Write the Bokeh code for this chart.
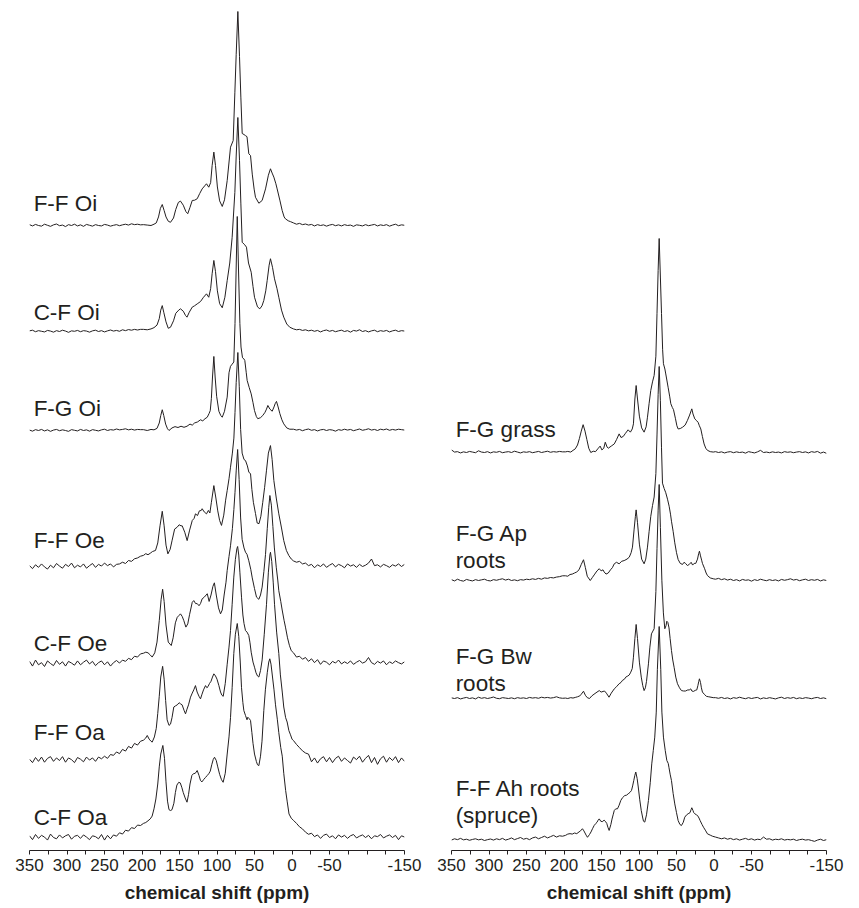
from bokeh.plotting import figure
from bokeh.models import Range1d, FixedTicker, ColumnDataSource
from bokeh.layouts import row
from bokeh.embed import file_html
from bokeh.resources import INLINE
from bokeh.core.properties import value

# ---------------- axis ticks ----------------
MAJOR_TICKS = [350, 300, 250, 200, 150, 100, 50, 0, -50, -100, -150]
MINOR_TICKS = [325, 275, 225, 175, 125, 75, 25, -25, -75, -125]
HIDDEN_TICK_LABELS = [-100]

# ---------------- sampling grids for the baseline wings (ppm) ----------------
LEFT_GRID = [350, 346, 342, 338, 334, 330, 326, 322, 318, 314, 310, 306, 302, 298, 294, 290, 286, 282, 278,
             274, 270, 266, 262, 258, 254, 250, 246, 242, 238, 234, 230, 226, 222, 218, 214, 210, 206, 202]
RIGHT_GRID = [-2, -6, -10, -14, -18, -22, -26, -30, -34, -38, -42, -46, -50, -54, -58, -62, -66, -70, -74,
              -78, -82, -86, -90, -94, -98, -102, -106, -110, -114, -118, -122, -126, -130, -134, -138, -142, -146, -150]

# ---------------- spectra (relative intensity, max = 1) ----------------
# F-F Oi
FFOI_L = [0.004,-0.002,0.005,0.000,-0.003,0.006,0.001,-0.004,0.003,0.007,
          -0.001,0.002,-0.005,0.004,0.000,0.006,-0.002,0.003,-0.004,0.005,
          0.001,-0.003,0.004,0.000,-0.002,0.005,0.002,-0.003,0.001,0.004,
          -0.001,0.003,0.006,0.002,0.008,0.004,0.006,0.003]
FFOI_PPM = [198,193,188,184,181,178,175.5,173,170.5,168,165,162,158,155,151.5,148.7,145,141.5,139,136,133,130,
            126.4,123,119.8,116.5,114,111,108.5,106.5,104.2,102,99.5,96.5,93,90,86.4,82,78.4,76.2,74.4,72.2,70,
            68.2,66.4,64,62,60,57.6,55.3,53,50.5,48.7,44.2,39.8,35.3,31.5,28.7,26.5,24.2,21.5,19.8,16,13.1,10.5,
            8.7,5,2]
FFOI_INT = [0.004,0.002,0.0,0.006,0.012,0.04,0.08,0.098,0.07,0.04,0.02,0.015,0.035,0.075,0.108,0.114,0.095,0.065,
            0.055,0.085,0.117,0.118,0.125,0.15,0.171,0.185,0.195,0.179,0.2,0.28,0.343,0.28,0.18,0.115,0.089,0.12,
            0.21,0.366,0.397,0.62,0.8,1.0,0.79,0.6,0.43,0.425,0.42,0.415,0.335,0.327,0.24,0.17,0.132,0.104,0.117,
            0.171,0.235,0.265,0.245,0.226,0.195,0.171,0.115,0.07,0.04,0.031,0.022,0.018]
FFOI_R = [0.012,0.006,0.010,0.004,0.007,0.002,0.005,-0.002,0.004,0.000,
          0.003,-0.003,0.002,0.005,-0.001,0.003,-0.002,0.004,0.000,0.002,
          -0.004,0.003,0.001,-0.002,0.004,-0.001,0.002,0.005,-0.002,0.003,
          0.000,0.004,-0.003,0.002,0.006,-0.001,0.003,0.001]

# C-F Oi
CFOI_L = [0.003,0.006,-0.001,0.004,0.001,-0.002,0.005,0.002,-0.003,0.004,
          0.000,0.006,0.002,-0.004,0.003,0.001,0.005,-0.001,0.004,0.002,
          -0.003,0.003,0.006,0.000,0.004,-0.002,0.003,0.007,0.002,0.005,
          0.001,0.008,0.004,0.009,0.006,0.010,0.007,0.010]
CFOI_PPM = [198,193,188,184,180,177,175,173,171,168,165,162,158,155,151,148.7,145,142,140,137,133,130,126.4,122,
            118,114,111,108.5,106.5,104.2,102,99.5,96.5,93,89.5,86.4,83,79.8,76.2,74.4,72.2,70,68.2,66.4,63,60.7,
            58,54.4,52,50,46,42.9,40,37.6,35,33.1,30.5,28.7,26,23.3,20,17.6,14,11,7,3]
CFOI_INT = [0.01,0.008,0.012,0.018,0.03,0.06,0.1,0.121,0.09,0.045,0.015,0.02,0.05,0.085,0.1,0.106,0.095,0.075,
            0.067,0.09,0.114,0.12,0.129,0.14,0.16,0.176,0.16,0.2,0.27,0.332,0.28,0.19,0.13,0.111,0.16,0.238,0.32,
            0.44,0.65,0.82,1.0,0.8,0.6,0.417,0.405,0.394,0.32,0.277,0.21,0.16,0.115,0.106,0.12,0.145,0.19,0.238,
            0.31,0.34,0.3,0.246,0.2,0.16,0.1,0.067,0.035,0.02]
CFOI_R = [0.012,0.008,0.010,0.005,0.008,0.003,0.006,0.001,0.005,-0.002,
          0.004,0.007,0.001,0.005,-0.001,0.003,0.006,0.000,0.004,-0.003,
          0.005,0.002,0.008,0.000,0.004,-0.002,0.003,0.006,-0.001,0.004,
          0.001,0.005,-0.002,0.003,0.006,0.000,0.004,0.002]

# F-G Oi
FGOI_L = [0.002,-0.003,0.004,0.000,0.005,-0.002,0.003,-0.004,0.002,0.005,
          -0.001,0.003,0.000,-0.004,0.004,0.001,-0.002,0.005,0.000,0.003,
          -0.003,0.004,0.001,-0.002,0.003,0.006,0.000,0.004,0.002,0.007,
          0.003,0.005,0.008,0.003,0.006,0.002,0.005,0.004]
FGOI_PPM = [198,193,188,184,180,177,175,173,171,168.5,166,164,160,156,152,148,144,140,136,133,130,126,122,119,
            116,113,110.5,109,107.5,106,104.2,102.5,100.5,97.5,95,93,90,86.4,84,82,79.8,77.6,76,74.5,73,71.3,69.5,
            68,66,64.2,62.9,61,59.8,57,54.4,52,50,47.5,45.6,42,39,36,34,32.2,29.5,26.4,24,22.5,20.7,18.5,16.2,
            13.5,11,7,3]
FGOI_INT = [0.004,0.0,0.005,0.003,0.01,0.035,0.07,0.097,0.07,0.03,0.008,0.0,0.012,0.018,0.014,0.02,0.015,0.02,
            0.03,0.025,0.035,0.04,0.05,0.045,0.055,0.062,0.08,0.093,0.15,0.25,0.346,0.25,0.16,0.09,0.07,0.062,0.09,
            0.156,0.27,0.3,0.31,0.32,0.5,0.75,1.0,0.75,0.5,0.39,0.34,0.335,0.327,0.27,0.234,0.2,0.171,0.13,0.093,
            0.065,0.055,0.06,0.07,0.085,0.1,0.117,0.1,0.09,0.11,0.125,0.136,0.11,0.079,0.05,0.031,0.012,0.006]
FGOI_R = [0.006,0.002,0.005,-0.001,0.004,0.007,0.001,0.004,-0.002,0.003,
          0.005,0.000,0.004,0.002,-0.003,0.004,0.001,0.006,0.002,0.005,
          -0.001,0.003,0.007,0.001,0.004,0.008,0.002,0.005,0.000,0.006,
          0.003,0.007,0.001,0.005,0.002,0.006,0.004,0.002]

# F-F Oe
FFOE_L = [0.004,-0.010,0.008,-0.004,0.012,-0.002,-0.012,0.006,-0.006,0.014,
          0.002,-0.008,0.010,0.000,0.016,-0.006,0.006,-0.002,0.012,-0.008,
          0.004,0.014,-0.004,0.010,0.002,0.016,0.004,0.012,-0.002,0.010,
          0.012,0.020,0.014,0.028,0.024,0.036,0.040,0.048]
FFOE_PPM = [198,195,192,189,186,182,179,176,173,170.5,168,165.5,162.5,160,156.5,153,150.5,148,146.4,143,139.8,
            136.5,133,130.5,128.7,126,123.5,121,119.8,117,114,111.5,109.5,107.5,104.2,101.5,99,96.5,94,91,88.5,
            86.4,84,82,79.5,77.5,76,74.4,72.2,70.3,68.5,66.5,64,62,59.5,57.5,55.3,53.5,51.5,48.7,46.4,44,41.5,
            39,36.5,34,31.5,28.7,26.5,24.2,21,17.6,14,11,7.5,4.2,1]
FFOE_INT = [0.052,0.06,0.055,0.062,0.07,0.075,0.11,0.19,0.258,0.19,0.1,0.059,0.08,0.12,0.175,0.184,0.195,0.19,
            0.19,0.16,0.121,0.17,0.215,0.225,0.246,0.238,0.26,0.262,0.27,0.255,0.246,0.262,0.25,0.3,0.378,0.32,
            0.26,0.215,0.192,0.24,0.31,0.355,0.41,0.464,0.53,0.6,0.72,0.86,1.0,0.84,0.64,0.53,0.5,0.495,0.47,0.44,
            0.434,0.36,0.3,0.248,0.203,0.2,0.235,0.3,0.37,0.45,0.53,0.565,0.5,0.402,0.32,0.246,0.18,0.121,0.075,
            0.051,0.035]
FFOE_R = [0.026,0.020,0.024,0.012,0.016,0.004,0.010,-0.006,0.008,0.000,
          0.012,-0.004,0.006,0.014,-0.002,0.010,0.004,-0.006,0.012,0.002,
          0.008,-0.004,0.010,0.000,0.006,0.016,0.035,0.004,0.008,-0.002,
          0.010,0.004,-0.004,0.008,0.002,0.012,0.000,0.010]

# C-F Oe
CFOE_L = [0.010,-0.012,0.016,-0.006,0.004,-0.014,0.012,0.000,-0.010,0.014,
          -0.004,0.008,-0.012,0.010,0.002,-0.008,0.012,-0.006,0.006,0.016,
          -0.002,0.010,-0.010,0.004,0.012,-0.006,0.008,-0.012,0.004,0.014,
          0.002,0.016,0.010,0.024,0.018,0.034,0.030,0.045]
CFOE_PPM = [198,195,192,189,186.4,183,180,177,174.5,172.5,170.5,168,165,161,158.5,155.5,153,150.5,148.7,146.4,
            144.2,141.5,139,136.5,133,131,128.5,126.4,124,122,119.8,117,114.5,113,110.5,108,105.5,103.5,101,98,
            95.3,93,90.5,88,86.4,84,82,79.5,77.5,76,74.4,72.5,70.5,68.5,66.5,64,62,60,57.6,55,53,50,47.3,44.2,42,
            39.8,37.5,35.3,33,31,29.5,27.5,25.5,23.5,21,19,17.6,15,13.1,10.5,8.7,6,3.5,1]
CFOE_INT = [0.048,0.053,0.05,0.04,0.03,0.05,0.1,0.2,0.3,0.347,0.29,0.18,0.1,0.084,0.12,0.19,0.216,0.225,0.232,
            0.22,0.2,0.17,0.185,0.23,0.286,0.294,0.28,0.28,0.27,0.28,0.302,0.31,0.32,0.326,0.29,0.32,0.36,0.377,
            0.32,0.26,0.232,0.25,0.32,0.38,0.435,0.5,0.55,0.63,0.72,0.8,0.9,1.0,0.86,0.68,0.58,0.54,0.52,0.51,0.48,
            0.44,0.4,0.35,0.31,0.3,0.32,0.357,0.43,0.51,0.63,0.73,0.785,0.74,0.64,0.54,0.45,0.39,0.34,0.29,0.25,
            0.2,0.17,0.12,0.085,0.06]
CFOE_R = [0.050,0.030,0.034,0.020,0.028,0.010,0.022,0.004,0.018,-0.004,
          0.012,0.006,-0.006,0.010,0.002,0.016,-0.002,0.008,0.000,0.012,
          -0.004,0.006,0.014,0.002,0.008,0.028,0.004,-0.004,0.010,0.002,
          0.012,-0.006,0.008,0.000,0.012,0.004,-0.002,0.008]

# F-F Oa
FFOA_L = [0.006,-0.010,0.014,-0.004,0.016,-0.008,0.010,0.018,-0.004,0.012,
          0.000,0.018,-0.008,0.012,0.004,-0.010,0.014,0.006,-0.006,0.016,
          0.002,0.012,-0.004,0.016,0.008,0.020,0.010,0.028,0.024,0.040,
          0.032,0.052,0.044,0.066,0.058,0.080,0.072,0.090]
FFOA_PPM = [198,195,193,190.5,188,186.4,183.5,181,179,177,175,172.5,170.5,168.5,166.5,164,162,160,157.6,155.5,153,
            150.5,148.7,146.5,144,142,140,138,135.3,133,131,128.7,126.5,124,122,120,118,115.3,113.5,112,110,108,106,
            104.2,102,100,97.5,95.3,93.5,91.7,89,86.4,84,82,79.8,77.6,75.5,73.5,72.5,71,69.5,67.3,65.5,64,62,60,
            57.6,56,54.4,52,50,48,46,44.2,42,39.8,37,34,31.5,29.5,28.7,27,25,23.3,20.5,17.6,15.5,13,11,8.5,6.5,
            4.2,2,0]
FFOA_INT = [0.095,0.105,0.117,0.1,0.09,0.086,0.11,0.15,0.22,0.3,0.39,0.44,0.38,0.28,0.19,0.164,0.17,0.2,0.25,
            0.255,0.26,0.27,0.265,0.26,0.235,0.218,0.24,0.26,0.296,0.315,0.33,0.35,0.32,0.3,0.288,0.31,0.33,0.35,
            0.34,0.345,0.36,0.37,0.39,0.405,0.395,0.38,0.35,0.32,0.305,0.3,0.36,0.45,0.53,0.607,0.73,0.857,0.94,
            0.99,1.0,0.96,0.88,0.763,0.68,0.64,0.607,0.6,0.584,0.55,0.506,0.46,0.436,0.41,0.395,0.39,0.42,0.47,
            0.59,0.73,0.88,0.96,0.973,0.93,0.83,0.73,0.6,0.5,0.4,0.32,0.25,0.2,0.18,0.14,0.12,0.1]
FFOA_R = [0.093,0.075,0.060,0.045,0.035,0.030,-0.006,0.012,-0.012,0.008,
          0.018,-0.006,0.014,-0.010,0.010,0.020,-0.004,0.012,0.000,-0.012,
          0.016,0.004,0.020,-0.008,0.010,0.024,-0.010,0.014,-0.018,0.008,
          0.020,-0.008,0.014,0.000,0.018,-0.010,0.012,-0.004]

# C-F Oa
CFOA_L = [0.008,-0.010,0.014,-0.004,0.010,0.002,-0.012,0.016,0.000,-0.006,
          0.012,-0.002,0.008,0.014,-0.008,0.006,0.010,-0.004,0.012,0.002,
          -0.010,0.008,0.004,-0.006,0.014,-0.012,0.010,-0.006,0.012,0.006,
          0.022,0.016,0.034,0.030,0.046,0.042,0.058,0.056]
CFOA_PPM = [198,195,192,189,186.5,184,181.5,179,177,175,172.2,170,168,166,164,162,160,157.5,155.5,153.5,151,149,
            147,145,142.5,140,138,136,133.5,131.5,129,126.4,124,122,120,118,115.5,113,111,109,107,105,103.3,101,
            99,96.5,94,91.8,89,86.4,84,82,79.8,77.6,75.5,73,71,69,67.3,65.5,64.2,62,60,58.9,57,55.3,53.5,52,50,
            47.5,46,44.2,42,40,37.6,35.5,33,31,29.6,28,26,24,22,19.5,17.6,15,13,11,8.5,6.5,4,1]
CFOA_INT = [0.066,0.07,0.078,0.087,0.1,0.134,0.18,0.25,0.33,0.39,0.43,0.37,0.26,0.17,0.13,0.126,0.13,0.16,0.21,
            0.245,0.258,0.255,0.235,0.21,0.185,0.165,0.2,0.25,0.29,0.298,0.3,0.313,0.29,0.266,0.26,0.27,0.28,0.29,
            0.298,0.31,0.34,0.365,0.375,0.36,0.33,0.295,0.27,0.258,0.3,0.39,0.47,0.56,0.7,0.86,0.95,1.0,0.94,0.82,
            0.7,0.63,0.593,0.57,0.55,0.562,0.555,0.547,0.49,0.44,0.39,0.355,0.34,0.336,0.38,0.45,0.593,0.69,0.77,
            0.82,0.835,0.81,0.75,0.69,0.62,0.55,0.49,0.42,0.38,0.3,0.22,0.17,0.11,0.09]
CFOA_R = [0.080,0.066,0.050,0.040,0.025,0.015,0.020,0.004,0.012,-0.004,
          0.010,0.016,0.000,0.008,-0.006,0.012,0.002,0.010,-0.004,0.008,
          0.014,-0.002,0.006,0.012,0.000,0.010,-0.006,0.008,0.004,0.014,
          -0.002,0.006,0.012,0.000,0.010,-0.010,0.008,0.002]

# F-G grass
FGGR_L = [0.012,0.002,0.004,-0.002,0.003,0.000,0.005,0.002,-0.001,0.008,
          0.002,0.000,0.004,-0.002,0.003,0.001,0.005,-0.001,0.002,0.004,
          0.000,0.006,0.002,-0.002,0.003,0.001,0.004,-0.001,0.002,0.005,
          0.000,0.003,0.006,0.001,0.004,0.002,0.005,0.003]
FGGR_PPM = [198,195,191,188,185,182,179.5,177,174.5,172,169.5,167,164.3,161,158,155,151.8,149.5,147,145,142.5,141,
            137,133,130,126.5,124,121,118,114.5,111.5,109,107.4,105.5,103.8,102,99.5,96.5,93.2,90.5,88.7,86.5,84.3,
            82,79.8,77.5,76,74.5,73.1,71.5,70,68.5,67.4,65.5,64.3,61.2,59,57.6,55.5,54,51.5,49.5,47.8,45,42,38.5,
            35.4,32.5,30.5,29.6,28,25.6,23,21.2,19.5,17.6,15.5,13.2,11,8.7,5,1]
FGGR_INT = [0.003,0.005,0.002,0.01,0.017,0.035,0.065,0.1,0.13,0.1,0.06,0.02,0.0,0.006,0.004,0.017,0.03,0.012,0.02,
            0.048,0.025,0.02,0.03,0.04,0.06,0.087,0.07,0.075,0.09,0.106,0.095,0.11,0.134,0.25,0.313,0.25,0.17,0.115,
            0.095,0.12,0.165,0.23,0.29,0.33,0.36,0.45,0.65,0.85,1.0,0.82,0.65,0.48,0.415,0.39,0.367,0.305,0.26,
            0.228,0.21,0.2,0.16,0.125,0.11,0.112,0.118,0.128,0.15,0.175,0.195,0.204,0.18,0.157,0.148,0.141,0.125,
            0.11,0.075,0.04,0.02,0.01,0.004,0.002]
FGGR_R = [0.004,0.000,0.003,-0.002,0.002,0.004,-0.001,0.003,0.000,0.002,
          -0.003,0.004,0.001,-0.002,0.003,0.010,0.000,0.002,-0.001,0.003,
          0.000,0.002,-0.002,0.004,0.001,0.003,-0.001,0.002,0.004,0.000,
          0.003,-0.002,0.004,0.001,0.005,-0.003,0.002,-0.004]

# F-G Ap roots
FGAP_L = [0.004,-0.002,0.006,0.000,-0.003,0.005,0.001,-0.002,0.004,0.000,
          0.003,0.006,0.000,-0.002,0.004,0.001,0.005,0.008,0.002,0.006,
          0.000,0.003,-0.001,0.004,0.002,0.006,0.004,0.008,0.005,0.010,
          0.006,0.012,0.010,0.014,0.012,0.016,0.018,0.022]
FGAP_PPM = [198,195,192,189,186,183,180,177,174,171.5,169,165,162,159,156,153,150.5,148,146.5,144,141,138,135.5,
            133,130,126.5,123,119.8,116,113,110.5,108.7,106.5,104.8,103.8,102,99.5,96.5,93.2,91,88.7,86.5,84.3,82,
            79.8,77.5,76,74.5,73.1,71.5,70,68.7,66.5,64.3,62,59.8,58,56.7,54.5,52.3,50,47.8,45,42,40,38,35.5,33,
            30.5,28.5,26.5,24.3,22,20.5,19.4,18,16.5,15.4,12.5,10.5,8.7,5,1]
FGAP_INT = [0.022,0.02,0.028,0.03,0.035,0.04,0.05,0.075,0.097,0.06,0.02,0.0,0.015,0.03,0.045,0.055,0.045,0.05,0.04,
            0.03,0.035,0.05,0.06,0.078,0.085,0.078,0.09,0.093,0.1,0.109,0.13,0.156,0.24,0.3,0.33,0.27,0.17,0.1,0.078,
            0.1,0.156,0.23,0.3,0.35,0.39,0.5,0.68,0.87,1.0,0.84,0.62,0.455,0.43,0.41,0.38,0.347,0.31,0.277,0.23,
            0.176,0.13,0.098,0.08,0.075,0.085,0.08,0.07,0.075,0.085,0.072,0.08,0.08,0.1,0.125,0.137,0.115,0.095,
            0.08,0.055,0.035,0.023,0.012,0.008]
FGAP_R = [0.006,0.010,0.004,0.008,0.002,0.006,0.000,0.004,-0.002,0.005,
          0.001,0.003,-0.003,0.004,0.000,0.006,0.002,-0.001,0.004,0.000,
          0.003,-0.002,0.005,0.001,0.004,0.008,0.002,0.005,-0.001,0.003,
          0.006,0.000,0.004,0.001,0.005,-0.002,0.003,0.000]

# F-G Bw roots
FGBW_L = [0.003,0.000,0.004,-0.002,0.002,0.005,0.000,0.003,-0.002,0.006,
          0.001,0.004,0.000,0.003,0.007,0.001,-0.001,0.004,0.002,0.000,
          0.003,-0.001,0.004,0.001,0.003,0.000,0.005,0.002,0.004,0.001,
          0.006,0.003,0.005,0.002,0.004,0.008,0.003,0.001]
FGBW_PPM = [198,195,191,188,185,182,179,177,174,171.5,169,166,163,160,156,153,150.5,148,146,143.5,140,137,133,130,
            126.5,124,122,119.5,117.6,115,113,111,109,107.5,105.5,103.8,102,99.5,97,95,93.2,91.5,90,87.4,85.5,83.4,
            81.5,79.8,77.5,76,74.5,73.1,71.5,69.5,67.5,65.6,64,62.9,61.5,60,58.5,56.7,55,53.2,51,48.7,46,43.4,40.5,
            38,35,33,31,29.5,27.5,25,23,21.5,20.3,19.4,18,16.8,15.4,12.5,10,7,4,1]
FGBW_INT = [0.002,0.0,0.004,0.002,0.005,0.008,0.012,0.02,0.034,0.015,0.004,0.0,0.012,0.02,0.03,0.037,0.03,0.033,
            0.035,0.025,0.006,0.025,0.045,0.055,0.069,0.075,0.085,0.09,0.1,0.105,0.11,0.123,0.14,0.19,0.28,0.346,
            0.28,0.17,0.1,0.06,0.037,0.05,0.08,0.162,0.24,0.302,0.315,0.326,0.5,0.7,0.88,1.0,0.8,0.55,0.4,0.326,
            0.34,0.361,0.355,0.33,0.28,0.224,0.18,0.146,0.1,0.069,0.05,0.037,0.035,0.035,0.04,0.04,0.045,0.035,
            0.033,0.038,0.04,0.06,0.08,0.092,0.075,0.05,0.03,0.018,0.01,0.008,0.006,0.004]
FGBW_R = [0.004,0.001,0.005,0.000,0.003,-0.002,0.004,0.001,0.006,0.002,
          -0.001,0.004,0.000,0.003,0.005,-0.002,0.003,0.000,0.004,0.001,
          -0.002,0.003,0.006,0.000,0.004,0.001,0.005,-0.001,0.003,0.000,
          0.004,0.002,-0.001,0.003,0.005,0.000,0.003,-0.001]

# F-F Ah roots (spruce)
FFAH_L = [0.002,0.008,0.004,0.010,0.003,0.006,0.001,0.005,0.008,0.003,
          0.006,0.000,0.004,0.007,0.002,0.008,0.004,0.010,0.002,0.006,
          0.012,0.004,0.009,0.014,0.006,0.010,0.004,0.012,0.016,0.008,
          0.014,0.020,0.012,0.018,0.024,0.016,0.022,0.020]
FFAH_PPM = [198,195,192,189,186,183,180,178,175.4,173.5,172,170.5,168.7,166,164,162,159.8,157.5,156,154.5,153,151,
            149,146.5,145,143,141.5,139.8,137.5,136,134.5,133,131,128.7,126.5,124.3,122,119,116.5,114.5,112,110,
            108.5,107,105.5,104.3,102.5,101,99,97,95,94,92.3,90,87.4,85,83,81,79,77,75.5,73.1,71,69.5,67.4,65,62.9,
            61,60,58.5,56.7,54.5,52.3,50,47.8,45.5,43.4,41,39,36.5,34.5,32,30.5,29.6,28,27,25.6,23.5,22,20,18.5,16,
            14,11,8.7,5,2,0]
FFAH_INT = [0.024,0.03,0.032,0.03,0.035,0.032,0.04,0.045,0.055,0.045,0.035,0.025,0.015,0.028,0.04,0.055,0.07,0.08,
            0.085,0.095,0.101,0.09,0.088,0.095,0.09,0.08,0.062,0.047,0.075,0.1,0.12,0.14,0.148,0.148,0.165,0.187,
            0.2,0.21,0.212,0.218,0.225,0.234,0.255,0.28,0.305,0.32,0.29,0.25,0.19,0.14,0.105,0.09,0.086,0.12,0.187,
            0.27,0.358,0.42,0.483,0.6,0.8,1.0,0.8,0.6,0.483,0.42,0.374,0.36,0.34,0.31,0.28,0.22,0.171,0.13,0.093,
            0.075,0.07,0.085,0.109,0.12,0.125,0.13,0.145,0.153,0.14,0.13,0.125,0.12,0.117,0.105,0.093,0.075,0.062,
            0.045,0.031,0.025,0.02,0.018]
FFAH_R = [0.016,0.012,0.008,0.012,0.006,0.010,0.004,0.008,0.002,0.006,
          0.010,0.004,0.008,0.002,0.006,0.004,0.016,0.006,0.008,0.002,
          0.006,0.004,0.008,0.002,0.005,0.003,0.006,0.000,0.004,0.006,
          0.002,0.004,0.000,-0.004,0.002,0.006,0.000,0.004]

# ---------------- panel contents ----------------
LEFT_NAMES = [["F-F Oi"], ["C-F Oi"], ["F-G Oi"], ["F-F Oe"], ["C-F Oe"], ["F-F Oa"], ["C-F Oa"]]
LEFT_SPECTRA = [(FFOI_L, FFOI_PPM, FFOI_INT, FFOI_R), (CFOI_L, CFOI_PPM, CFOI_INT, CFOI_R),
                (FGOI_L, FGOI_PPM, FGOI_INT, FGOI_R), (FFOE_L, FFOE_PPM, FFOE_INT, FFOE_R),
                (CFOE_L, CFOE_PPM, CFOE_INT, CFOE_R), (FFOA_L, FFOA_PPM, FFOA_INT, FFOA_R),
                (CFOA_L, CFOA_PPM, CFOA_INT, CFOA_R)]
RIGHT_NAMES = [["F-G grass"], ["F-G Ap", "roots"], ["F-G Bw", "roots"], ["F-F Ah roots", "(spruce)"]]
RIGHT_SPECTRA = [(FGGR_L, FGGR_PPM, FGGR_INT, FGGR_R), (FGAP_L, FGAP_PPM, FGAP_INT, FGAP_R),
                 (FGBW_L, FGBW_PPM, FGBW_INT, FGBW_R), (FFAH_L, FFAH_PPM, FFAH_INT, FFAH_R)]

# ---------------- layout (px) ----------------
PX_PER_UNIT = 214.0
FRAME_W, FRAME_H = 375, 842
TOP_PAD = 8
LEFT_BASE_PX = [625, 519, 420, 284, 187, 90, 13]        # baseline height above the axis
RIGHT_BASE_PX = [398, 270, 152, 10]
LEFT_LABEL_RAISE = [22, 19, 22, 26, 20, 28, 20]          # last text line baseline above spectrum baseline
RIGHT_LABEL_RAISE = [23, 20, 15, 25]
LINE_GAP = 27.5
LABEL_X = 344.5
INK = "#231f20"
FONT = "Liberation Sans"


def make_panel(names, spectra, base_px, raise_px, border_left, border_right):
    p = figure(frame_width=FRAME_W, frame_height=FRAME_H,
               x_range=Range1d(350, -150), y_range=Range1d(0, FRAME_H / PX_PER_UNIT),
               output_backend="svg", toolbar_location=None, title=None,
               y_axis_location=None, x_axis_location="below",
               min_border_left=border_left, min_border_right=border_right,
               min_border_top=TOP_PAD, min_border_bottom=0)
    p.xgrid.visible = False
    p.ygrid.visible = False
    p.outline_line_color = None
    p.background_fill_color = "white"
    p.border_fill_color = "white"

    ax = p.xaxis[0]
    ax.ticker = FixedTicker(ticks=MAJOR_TICKS, minor_ticks=MINOR_TICKS)
    ax.major_label_overrides = {t: ("" if t in HIDDEN_TICK_LABELS else str(t)) for t in MAJOR_TICKS}
    ax.axis_line_color = INK
    ax.axis_line_width = 1
    ax.major_tick_line_color = INK
    ax.minor_tick_line_color = INK
    ax.major_tick_in = 0
    ax.major_tick_out = 4
    ax.minor_tick_in = 0
    ax.minor_tick_out = 4
    ax.major_label_standoff = 4
    ax.major_label_text_font = FONT
    ax.major_label_text_font_size = "17px"
    ax.major_label_text_color = INK
    ax.axis_label = "chemical shift (ppm)"
    ax.axis_label_text_font = FONT
    ax.axis_label_text_font_size = "19px"
    ax.axis_label_text_font_style = "bold"
    ax.axis_label_text_color = INK
    ax.axis_label_standoff = 8

    tx, ty, tt = [], [], []
    for name_lines, spec, bpx, rpx in zip(names, spectra, base_px, raise_px):
        off = bpx / PX_PER_UNIT
        left, ppm, inten, right = spec
        xs = LEFT_GRID + ppm + RIGHT_GRID
        ys = [off + v for v in (left + inten + right)]
        p.line(xs, ys, line_color=INK, line_width=1.0)
        n = len(name_lines)
        for i, line in enumerate(name_lines):
            tx.append(LABEL_X)
            ty.append(off + (rpx + (n - 1 - i) * LINE_GAP) / PX_PER_UNIT)
            tt.append(line)
    src = ColumnDataSource(dict(x=tx, y=ty, text=tt))
    p.text(x="x", y="y", text="text", source=src, text_font=value(FONT), text_font_size="22.5px",
           text_color=INK, text_align="left", text_baseline="alphabetic")
    return p


left_fig = make_panel(LEFT_NAMES, LEFT_SPECTRA, LEFT_BASE_PX, LEFT_LABEL_RAISE, 29, 18)
right_fig = make_panel(RIGHT_NAMES, RIGHT_SPECTRA, RIGHT_BASE_PX, RIGHT_LABEL_RAISE, 29, 25)

layout = row(left_fig, right_fig, spacing=0)
open("out.html", "w").write(file_html(layout, INLINE))
